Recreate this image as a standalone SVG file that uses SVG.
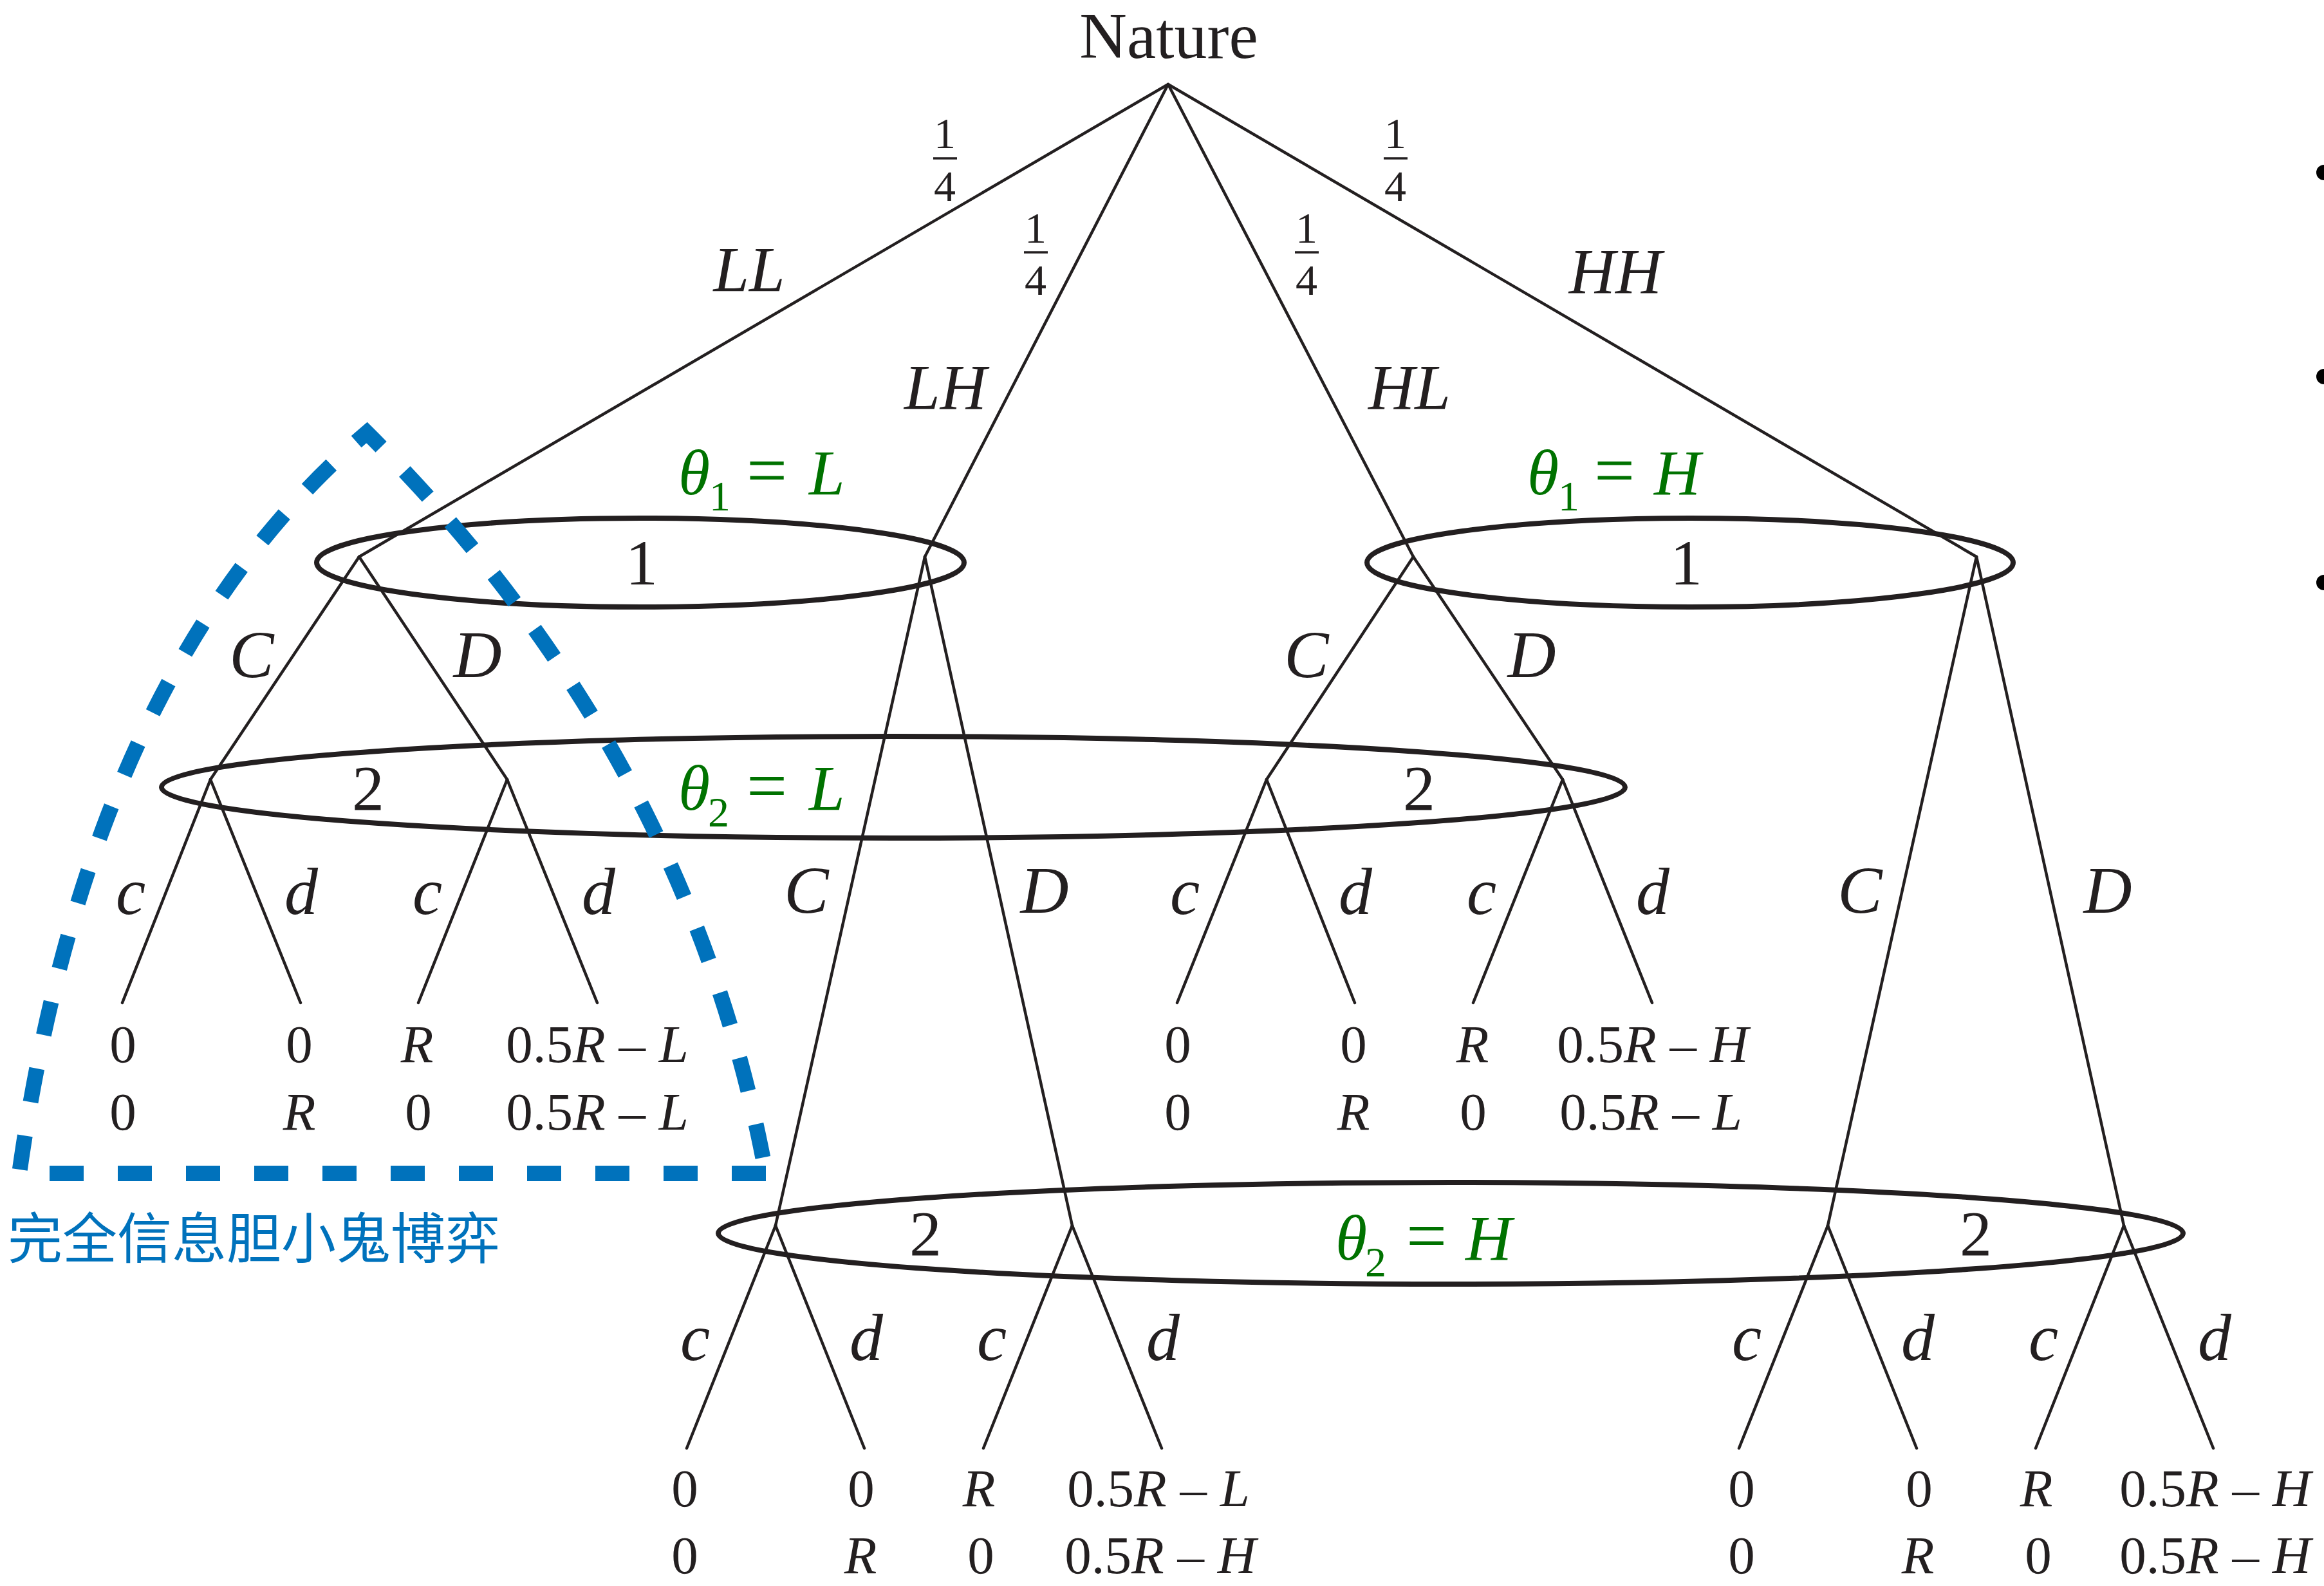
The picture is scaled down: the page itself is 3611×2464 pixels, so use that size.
<svg xmlns="http://www.w3.org/2000/svg" width="3611" height="2464" viewBox="0 0 3611 2464">
<style>
.ln{stroke:#231f20;stroke-width:4.5;fill:none;stroke-linecap:round}
.ell{fill:none;stroke:#231f20;stroke-width:8}
.t{font-family:"Liberation Serif","Times New Roman",serif;fill:#231f20}
.it{font-style:italic}
.lab{font-size:104px;font-style:italic;text-anchor:middle}
.big{font-size:100px}
.pay{font-size:83px;text-anchor:middle}
.frac{font-size:68px;text-anchor:middle}
.gr{fill:#007200}
.bar{stroke:#231f20;stroke-width:3.5}
.blue{stroke:#0072bc;stroke-width:24;fill:none;stroke-dasharray:53 53;stroke-linejoin:miter}
.cjk{font-family:"Noto Sans CJK SC","Noto Sans",sans-serif;fill:#0072bc;font-size:85px}
</style>
<rect width="3611" height="2464" fill="#ffffff"/>

<g id="connectors">
<line class="ln" x1="1815" y1="131" x2="558" y2="865"/>
<line class="ln" x1="1815" y1="131" x2="1437" y2="865"/>
<line class="ln" x1="1815" y1="131" x2="2196" y2="865"/>
<line class="ln" x1="1815" y1="131" x2="3071" y2="865"/>
<line class="ln" x1="558" y1="865" x2="327" y2="1211"/>
<line class="ln" x1="558" y1="865" x2="788" y2="1211"/>
<line class="ln" x1="1437" y1="865" x2="1205" y2="1904"/>
<line class="ln" x1="1437" y1="865" x2="1666" y2="1904"/>
<line class="ln" x1="2196" y1="865" x2="1968" y2="1211"/>
<line class="ln" x1="2196" y1="865" x2="2428" y2="1211"/>
<line class="ln" x1="3071" y1="865" x2="2840" y2="1904"/>
<line class="ln" x1="3071" y1="865" x2="3300" y2="1904"/>
<line class="ln" x1="327" y1="1211" x2="190" y2="1558"/>
<line class="ln" x1="327" y1="1211" x2="467" y2="1558"/>
<line class="ln" x1="788" y1="1211" x2="650" y2="1558"/>
<line class="ln" x1="788" y1="1211" x2="928" y2="1558"/>
<line class="ln" x1="1968" y1="1211" x2="1829" y2="1558"/>
<line class="ln" x1="1968" y1="1211" x2="2105" y2="1558"/>
<line class="ln" x1="2428" y1="1211" x2="2289" y2="1558"/>
<line class="ln" x1="2428" y1="1211" x2="2567" y2="1558"/>
<line class="ln" x1="1205" y1="1904" x2="1067" y2="2250"/>
<line class="ln" x1="1205" y1="1904" x2="1343" y2="2250"/>
<line class="ln" x1="1666" y1="1904" x2="1528" y2="2250"/>
<line class="ln" x1="1666" y1="1904" x2="1805" y2="2250"/>
<line class="ln" x1="2840" y1="1904" x2="2702" y2="2250"/>
<line class="ln" x1="2840" y1="1904" x2="2978" y2="2250"/>
<line class="ln" x1="3300" y1="1904" x2="3163" y2="2250"/>
<line class="ln" x1="3300" y1="1904" x2="3439" y2="2250"/>
</g>

<g id="edge-labels" class="t">
<g class="frac">
<text x="1468" y="230">1</text><line class="bar" x1="1450" y1="246" x2="1487" y2="246"/><text x="1468" y="312">4</text>
<text x="2168" y="230">1</text><line class="bar" x1="2150" y1="246" x2="2187" y2="246"/><text x="2168" y="312">4</text>
<text x="1609" y="377">1</text><line class="bar" x1="1591" y1="392" x2="1628" y2="392"/><text x="1609" y="458">4</text>
<text x="2030" y="377">1</text><line class="bar" x1="2012" y1="392" x2="2049" y2="392"/><text x="2030" y="458">4</text>
</g>
<g class="lab" style="font-size:100px">
<text x="1164" y="452">LL</text>
<text x="2510" y="455">HH</text>
<text x="1469" y="635">LH</text>
<text x="2190" y="635">HL</text>
</g>
<g class="lab">
<text x="391" y="1052">C</text>
<text x="742" y="1052">D</text>
<text x="2030" y="1052">C</text>
<text x="2380" y="1052">D</text>
<text x="1253" y="1418">C</text>
<text x="1623" y="1418">D</text>
<text x="2890" y="1418">C</text>
<text x="3275" y="1418">D</text>
<text x="203" y="1420">c</text>
<text x="468" y="1420">d</text>
<text x="664" y="1420">c</text>
<text x="930" y="1420">d</text>
<text x="1841" y="1420">c</text>
<text x="2106" y="1420">d</text>
<text x="2302" y="1420">c</text>
<text x="2568" y="1420">d</text>
<text x="1080" y="2113">c</text>
<text x="1346" y="2113">d</text>
<text x="1541" y="2113">c</text>
<text x="1807" y="2113">d</text>
<text x="2714" y="2113">c</text>
<text x="2980" y="2113">d</text>
<text x="3175" y="2113">c</text>
<text x="3441" y="2113">d</text>
</g>
</g>

<g id="nature" class="t">
<text x="1816" y="90" font-size="102" text-anchor="middle">Nature</text>
</g>

<g id="player1-L" class="t">
<ellipse class="ell" cx="995" cy="874" rx="503" ry="69"/>
<text x="997" y="908" class="big" text-anchor="middle">1</text>
<text class="big gr" y="768"><tspan x="1054" font-style="italic">θ</tspan><tspan x="1102" y="793" font-size="66">1</tspan><tspan x="1160" y="768" font-size="112">=</tspan><tspan x="1257" font-style="italic">L</tspan></text>
</g>

<g id="player1-H" class="t">
<ellipse class="ell" cx="2626" cy="874" rx="502" ry="69"/>
<text x="2620" y="908" class="big" text-anchor="middle">1</text>
<text class="big gr" y="768"><tspan x="2373" font-style="italic">θ</tspan><tspan x="2421" y="793" font-size="66">1</tspan><tspan x="2477" y="768" font-size="112">=</tspan><tspan x="2570" font-style="italic">H</tspan></text>
</g>

<g id="player2-L" class="t">
<ellipse class="ell" cx="1388" cy="1223" rx="1137" ry="79"/>
<text x="572" y="1258" class="big" text-anchor="middle">2</text>
<text x="2205" y="1258" class="big" text-anchor="middle">2</text>
<text class="big gr" y="1258"><tspan x="1054" font-style="italic">θ</tspan><tspan x="1100" y="1284" font-size="66">2</tspan><tspan x="1160" y="1258" font-size="112">=</tspan><tspan x="1257" font-style="italic">L</tspan></text>
</g>

<g id="player2-H" class="t">
<ellipse class="ell" cx="2254" cy="1916" rx="1138" ry="79"/>
<text x="1438" y="1950" class="big" text-anchor="middle">2</text>
<text x="3070" y="1950" class="big" text-anchor="middle">2</text>
<text class="big gr" y="1957"><tspan x="2075" font-style="italic">θ</tspan><tspan x="2121" y="1983" font-size="66">2</tspan><tspan x="2185" y="1957" font-size="112">=</tspan><tspan x="2277" font-style="italic">H</tspan></text>
</g>

<g id="payoffs-LL" class="t pay">
<text x="191" y="1650">0</text>
<text x="465" y="1650">0</text>
<text x="648" y="1650" class="it">R</text>
<text x="928" y="1650">0.5<tspan class="it">R</tspan> – <tspan class="it">L</tspan></text>
<text x="191" y="1755">0</text>
<text x="465" y="1755" class="it">R</text>
<text x="650" y="1755">0</text>
<text x="928" y="1755">0.5<tspan class="it">R</tspan> – <tspan class="it">L</tspan></text>
</g>

<g id="payoffs-HL" class="t pay">
<text x="1830" y="1650">0</text>
<text x="2103" y="1650">0</text>
<text x="2288" y="1650" class="it">R</text>
<text x="2568" y="1650">0.5<tspan class="it">R</tspan> – <tspan class="it">H</tspan></text>
<text x="1830" y="1755">0</text>
<text x="2103" y="1755" class="it">R</text>
<text x="2289" y="1755">0</text>
<text x="2565" y="1755">0.5<tspan class="it">R</tspan> – <tspan class="it">L</tspan></text>
</g>

<g id="payoffs-LH" class="t pay">
<text x="1064" y="2340">0</text>
<text x="1338" y="2340">0</text>
<text x="1521" y="2340" class="it">R</text>
<text x="1800" y="2340">0.5<tspan class="it">R</tspan> – <tspan class="it">L</tspan></text>
<text x="1064" y="2444">0</text>
<text x="1337" y="2444" class="it">R</text>
<text x="1524" y="2444">0</text>
<text x="1803" y="2444">0.5<tspan class="it">R</tspan> – <tspan class="it">H</tspan></text>
</g>

<g id="payoffs-HH" class="t pay">
<text x="2706" y="2340">0</text>
<text x="2982" y="2340">0</text>
<text x="3164" y="2340" class="it">R</text>
<text x="3442" y="2340">0.5<tspan class="it">R</tspan> – <tspan class="it">H</tspan></text>
<text x="2706" y="2444">0</text>
<text x="2980" y="2444" class="it">R</text>
<text x="3167" y="2444">0</text>
<text x="3442" y="2444">0.5<tspan class="it">R</tspan> – <tspan class="it">H</tspan></text>
</g>

<g id="complete-info-game">
<path class="blue" d="M 1190 1823 L 30 1823 Q 140 1040 570 672 Q 1070 1170 1190 1823"/>
<text class="cjk" x="12" y="1955">完全信息胆小鬼博弈</text>
</g>

<g id="bullets" fill="#000000">
<circle cx="3611" cy="268" r="12"/>
<circle cx="3611" cy="585" r="12"/>
<circle cx="3611" cy="905" r="12"/>
</g>
</svg>
